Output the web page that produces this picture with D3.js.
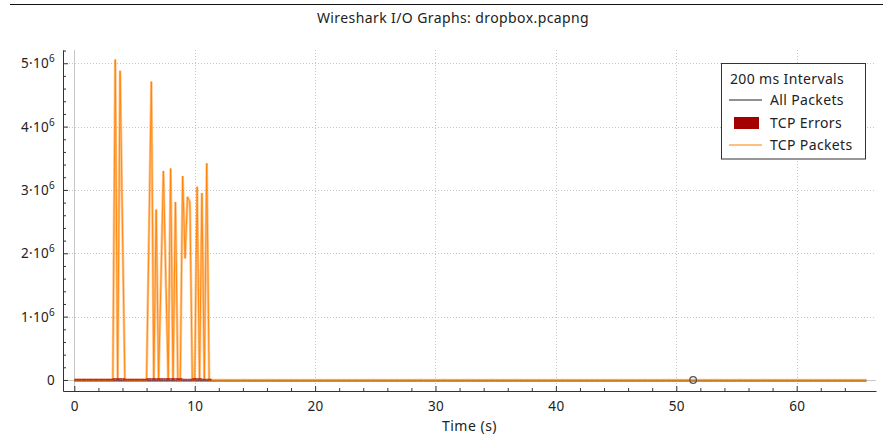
<!DOCTYPE html>
<html>
<head>
<meta charset="utf-8">
<script src="https://cdn.jsdelivr.net/npm/d3@7"></script>
<style>
  body { margin: 0; background: #fff; }
  svg { display: block; font-family: "Noto Sans", sans-serif; }
</style>
</head>
<body>
<svg id="chart"></svg>
<script>
const width = 883;
const height = 440;

// 200 ms intervals, TCP Packets (bytes) – only the non-zero intervals are listed
const burstTime  = [3.4, 3.8, 4.0, 6.2, 6.4, 6.8, 7.2, 7.4, 7.6, 8.0, 8.4, 9.0, 9.2, 9.4, 9.6, 10.2, 10.6, 11.0];
const burstBytes = [5.06e6, 4.88e6, 2.4e6, 2.3e6, 4.71e6, 2.69e6, 1.6e6, 3.30e6, 1.6e6, 3.34e6, 2.81e6, 3.22e6, 1.92e6, 2.89e6, 2.81e6, 3.05e6, 2.95e6, 3.42e6];
const lastTime = 65.8;

// TCP Errors, intervals 0 .. 11.2 s
const errorValues = [
  0.02e6, 0.02e6, 0.02e6, 0.02e6, 0.02e6, 0.02e6, 0.02e6, 0.02e6, 0.02e6, 0.02e6,
  0.02e6, 0.02e6, 0.02e6, 0.02e6, 0.02e6, 0.02e6, 0.03e6, 0.03e6, 0.03e6, 0.03e6,
  0.03e6, 0.02e6, 0.02e6, 0.02e6, 0.02e6, 0.02e6, 0.02e6, 0.02e6, 0.02e6, 0.02e6,
  0.03e6, 0.03e6, 0.03e6, 0.03e6, 0.03e6, 0.03e6, 0.03e6, 0.03e6, 0.03e6, 0.03e6,
  0.03e6, 0.03e6, 0.03e6, 0.03e6, 0.03e6, 0.02e6, 0.02e6, 0.02e6, 0.02e6, 0.03e6,
  0.03e6, 0.03e6, 0.03e6, 0.02e6, 0.02e6, 0.02e6, 0.02e6
];

const xTicks = [0, 10, 20, 30, 40, 50, 60];
const yTicks = [0, 1e6, 2e6, 3e6, 4e6, 5e6];
const yTickLabels = ["0", "1·10", "2·10", "3·10", "4·10", "5·10"];
const markerTime = 51.4;

const legendItems = ["All Packets", "TCP Errors", "TCP Packets"];
const colors = { all: "#222", errors: "#a40000", tcp: "#ff8000", grid: "#c4c4c4", axis: "#333" };

const interval = 0.2;

// full series
const tcpSeries = d3.range(0, Math.round(lastTime / interval) + 1).map(i => {
  const t = +(i * interval).toFixed(1);
  const k = burstTime.indexOf(t);
  return { t: t, v: k >= 0 ? burstBytes[k] : 0 };
});
const allSeries = tcpSeries.map(d => ({ t: d.t, v: 0 }));

const svg = d3.select("#chart").attr("width", width).attr("height", height);

const plot = { left: 63, right: 876, top: 50, bottom: 391 };

const x = d3.scaleLinear().domain([-0.94, 66.59]).range([plot.left, plot.right]);
const y = d3.scaleLinear().domain([-0.174e6, 5.209e6]).range([plot.bottom, plot.top]);

// top separator + title
svg.append("line")
  .attr("x1", 10).attr("x2", width).attr("y1", 4.5).attr("y2", 4.5)
  .attr("stroke", "#111").attr("stroke-width", 1.2);

svg.append("text")
  .attr("x", 453).attr("y", 23)
  .attr("text-anchor", "middle")
  .attr("font-size", 14)
  .attr("letter-spacing", 0.4)
  .attr("fill", "#222")
  .text("Wireshark I/O Graphs: dropbox.pcapng");

// grid
const grid = svg.append("g");
grid.selectAll(".vgrid").data(xTicks.filter(d => d !== 0)).enter()
  .append("line")
  .attr("x1", d => Math.round(x(d)) + 0.5).attr("x2", d => Math.round(x(d)) + 0.5)
  .attr("y1", plot.top).attr("y2", plot.bottom)
  .attr("stroke", colors.grid).attr("stroke-dasharray", "1,2");
grid.selectAll(".hgrid").data(yTicks.filter(d => d !== 0)).enter()
  .append("line")
  .attr("x1", plot.left).attr("x2", plot.right)
  .attr("y1", d => Math.round(y(d)) + 0.5).attr("y2", d => Math.round(y(d)) + 0.5)
  .attr("stroke", colors.grid).attr("stroke-dasharray", "1,2");

// zero lines
grid.append("line")
  .attr("x1", Math.round(x(0)) + 0.5).attr("x2", Math.round(x(0)) + 0.5)
  .attr("y1", plot.top).attr("y2", plot.bottom)
  .attr("stroke", "#c8c8c8");
grid.append("line")
  .attr("x1", plot.left).attr("x2", plot.right)
  .attr("y1", Math.round(y(0)) + 0.5).attr("y2", Math.round(y(0)) + 0.5)
  .attr("stroke", "#c8c8c8");

// All packets
const line = d3.line().x(d => x(d.t)).y(d => y(d.v));
svg.append("path").datum(allSeries)
  .attr("d", line).attr("fill", "none")
  .attr("stroke", colors.all).attr("stroke-width", 1)
  .attr("transform", "translate(0,1)");

// TCP packets
svg.append("path").datum(tcpSeries)
  .attr("d", line).attr("fill", "none")
  .attr("stroke", colors.tcp).attr("stroke-opacity", 0.45).attr("stroke-width", 2.6);
svg.append("path").datum(tcpSeries)
  .attr("d", line).attr("fill", "none")
  .attr("stroke", colors.tcp).attr("stroke-opacity", 0.85).attr("stroke-width", 1);

// TCP errors bars
svg.append("g").selectAll("rect").data(errorValues).enter()
  .append("rect")
  .attr("x", (d, i) => x(i * interval))
  .attr("width", x(interval) - x(0))
  .attr("y", d => y(d))
  .attr("height", d => y(0) - y(d) + 0.5)
  .attr("fill", colors.errors)
  .attr("opacity", 0.75);

// packet marker
svg.append("circle")
  .attr("cx", x(markerTime)).attr("cy", y(0))
  .attr("r", 3.3)
  .attr("fill", "none").attr("stroke", "#555").attr("stroke-width", 1.3);

// axes
const xAxis = svg.append("g").attr("transform", `translate(0,${plot.bottom})`)
  .call(d3.axisBottom(x).tickValues(xTicks).tickSizeInner(-5).tickSizeOuter(0).tickPadding(10));
svg.append("g").attr("transform", `translate(0,${plot.bottom})`)
  .call(d3.axisBottom(x).tickValues(d3.range(0, 66, 2).filter(d => d % 10 !== 0)).tickSizeInner(-3).tickSizeOuter(0).tickFormat(""))
  .select(".domain").remove();

const yAxis = svg.append("g").attr("transform", `translate(${plot.left},0)`)
  .call(d3.axisLeft(y).tickValues(yTicks).tickSizeInner(-5).tickSizeOuter(0).tickFormat(""));
svg.append("g").attr("transform", `translate(${plot.left},0)`)
  .call(d3.axisLeft(y).tickValues(d3.range(0, 5.21e6, 0.2e6).filter((d, i) => i % 5 !== 0)).tickSizeInner(-3).tickSizeOuter(0).tickFormat(""))
  .select(".domain").remove();

svg.selectAll(".domain, .tick line").attr("stroke", colors.axis);
xAxis.selectAll("text").attr("font-size", 13.5).attr("letter-spacing", 0.3).attr("fill", "#222").attr("font-family", "Noto Sans");

const yLab = svg.append("g").selectAll("text").data(yTicks).enter()
  .append("text")
  .attr("x", 55)
  .attr("y", d => y(d) + 5)
  .attr("text-anchor", "end")
  .attr("font-size", 13.5)
  .attr("letter-spacing", 0.3)
  .attr("fill", "#222");
yLab.append("tspan").text((d, i) => yTickLabels[i]);
yLab.filter(d => d !== 0).append("tspan")
  .attr("dy", -6).attr("font-size", 10).text("6");

svg.append("text")
  .attr("x", (plot.left + plot.right) / 2).attr("y", 431)
  .attr("text-anchor", "middle")
  .attr("font-size", 14)
  .attr("letter-spacing", 0.5)
  .attr("fill", "#222")
  .text("Time (s)");

// legend
const lg = svg.append("g").attr("transform", "translate(721.5,63.5)");
lg.append("rect").attr("width", 144).attr("height", 95.5)
  .attr("fill", "#fff").attr("stroke", "#333");
lg.append("text").attr("x", 8.5).attr("y", 20.5).attr("font-size", 14).attr("letter-spacing", 0.35).attr("fill", "#222").text("200 ms Intervals");
lg.selectAll(".item").data(legendItems).enter()
  .append("text")
  .attr("x", 48.5).attr("y", (d, i) => 41.5 + i * 22.5)
  .attr("font-size", 14).attr("letter-spacing", 0.35).attr("fill", "#222")
  .text(d => d);
lg.append("line").attr("x1", 7.5).attr("x2", 40.5).attr("y1", 36.5).attr("y2", 36.5).attr("stroke", colors.all);
lg.append("rect").attr("x", 12.5).attr("y", 53.5).attr("width", 25).attr("height", 12).attr("fill", colors.errors);
lg.append("line").attr("x1", 7.5).attr("x2", 40.5).attr("y1", 81.5).attr("y2", 81.5).attr("stroke", colors.tcp);
</script>
</body>
</html>
